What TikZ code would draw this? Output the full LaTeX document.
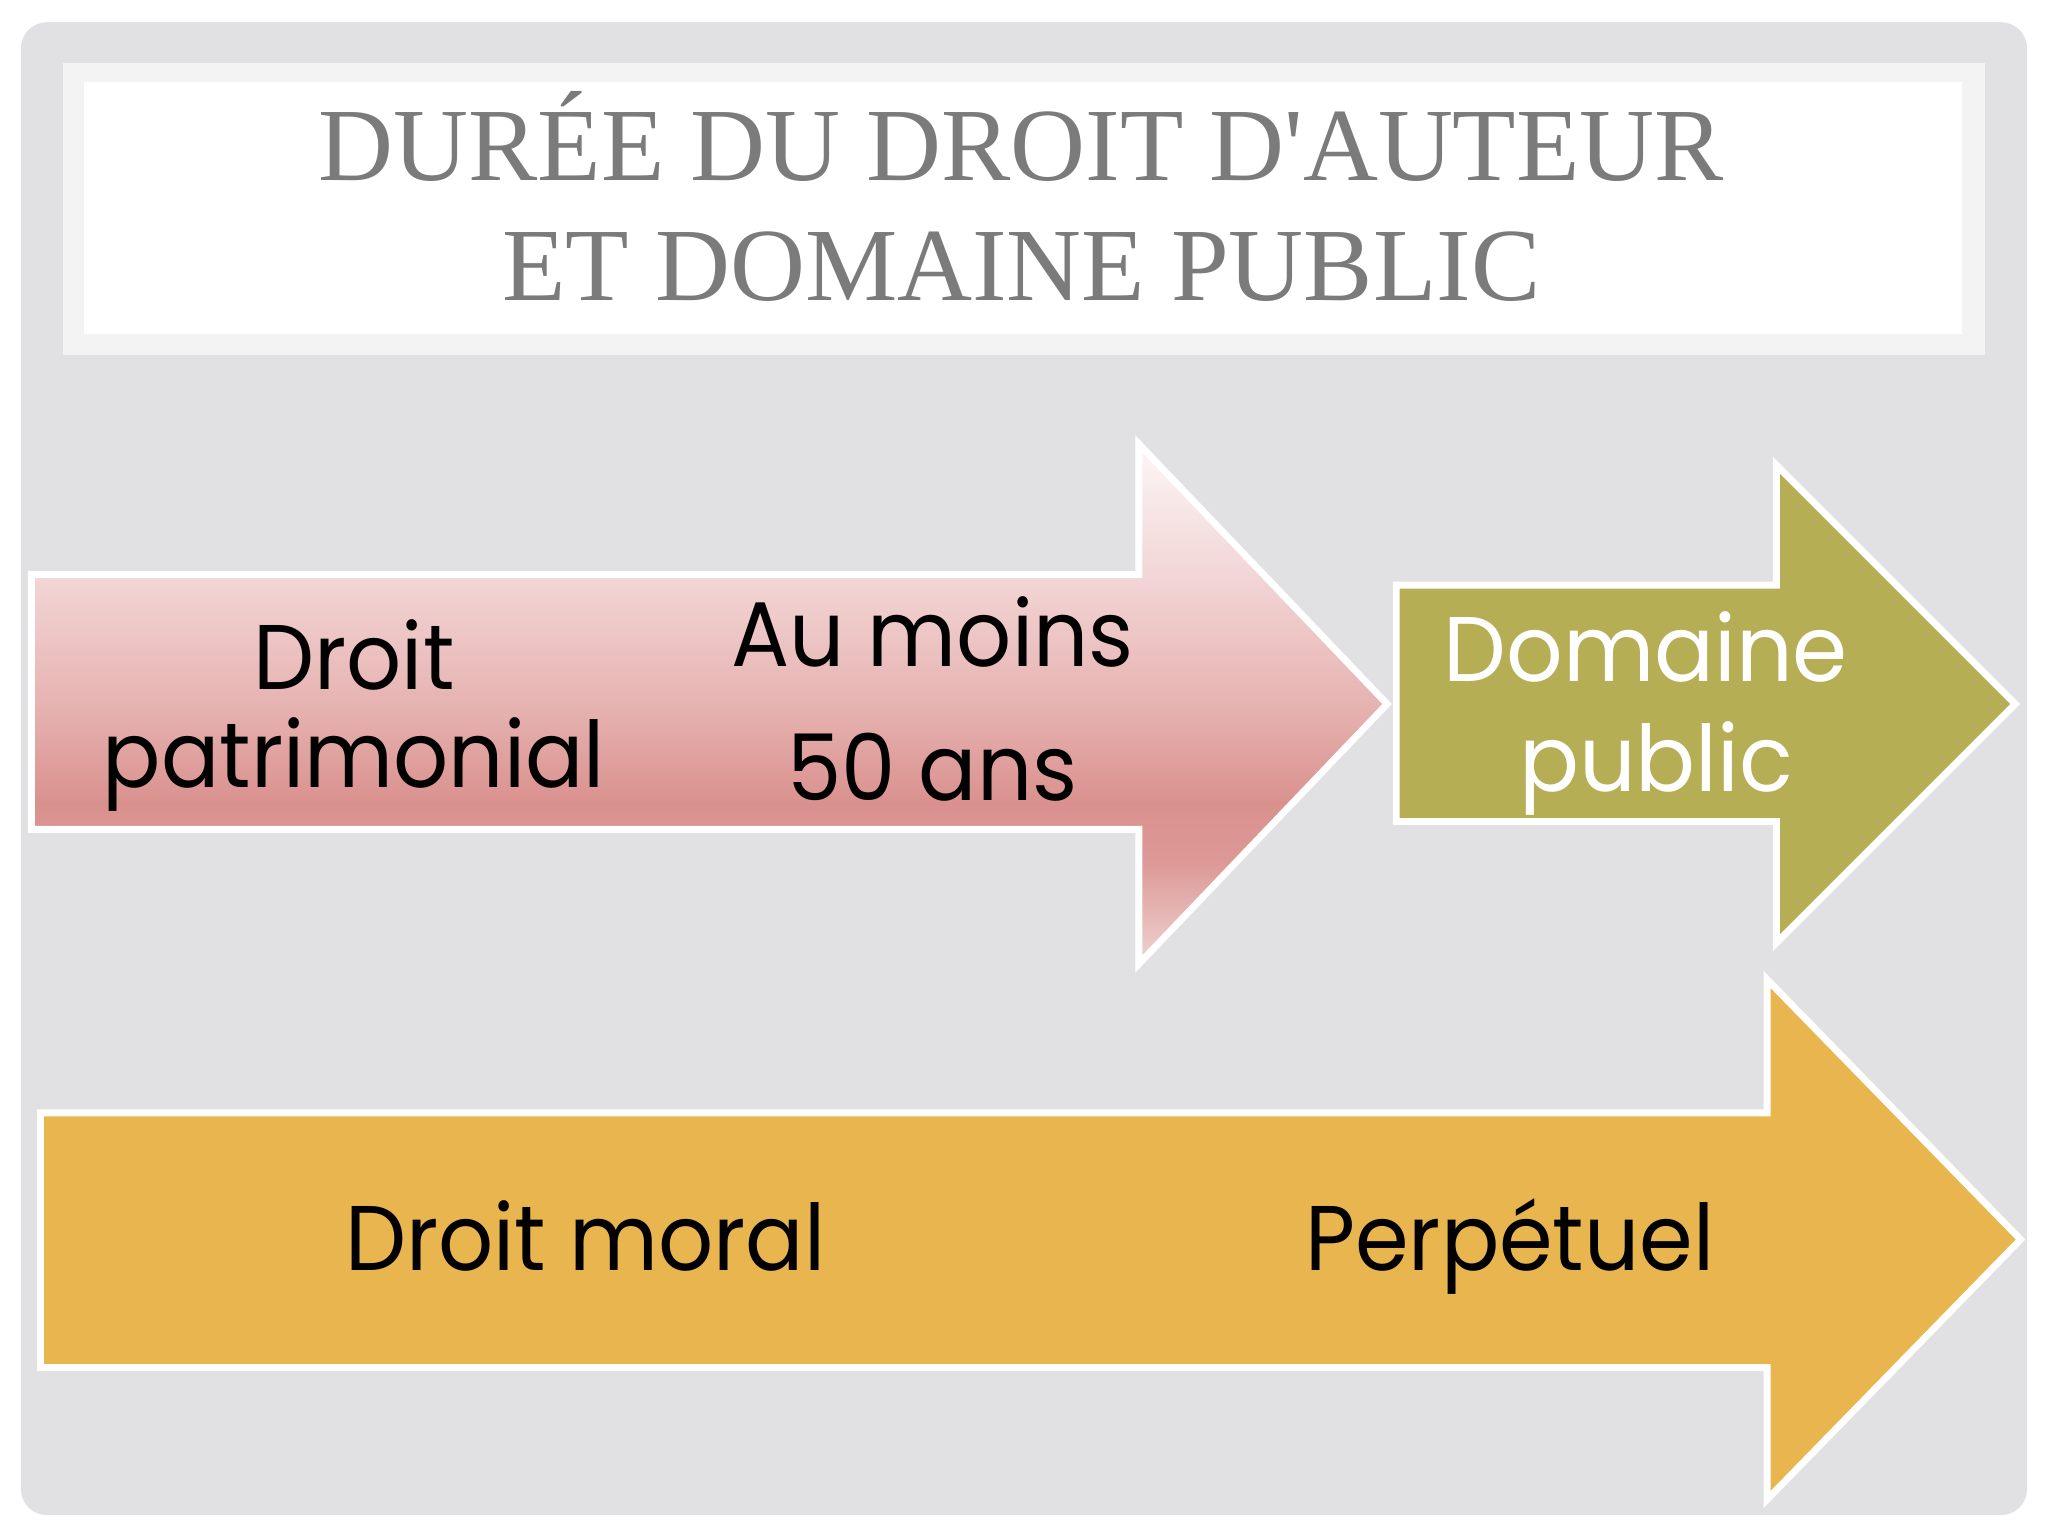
\documentclass[tikz,border=0pt]{standalone}
\usepackage{fontspec}
\setmainfont{Poppins}
\newfontfamily\titlefont{Liberation Serif}
\definecolor{bggrey}{HTML}{E1E0E2}
\definecolor{bandgrey}{HTML}{F3F3F3}
\definecolor{titlegrey}{HTML}{7B7B7B}
\definecolor{olive}{HTML}{B5AE55}
\definecolor{amber}{HTML}{E8B54E}
\definecolor{pk0}{HTML}{FCF6F6}
\definecolor{pk1}{HTML}{F2D4D4}
\definecolor{pk2}{HTML}{E6B3B1}
\definecolor{pk3}{HTML}{DA918E}
\definecolor{pk4}{HTML}{DC9996}
\definecolor{pk5}{HTML}{EFD3D2}
\pgfdeclareverticalshading{pinkshade}{100bp}{color(0bp)=(pk5); color(25bp)=(pk5); color(34.8bp)=(pk4); color(40.5bp)=(pk3); color(49.9bp)=(pk2); color(61.8bp)=(pk1); color(75bp)=(pk0); color(100bp)=(pk0)}
\tikzset{
  arrowshape/.style={draw=white, line width=1.5pt, line join=miter},
  titletext/.style={font=\titlefont\fontsize{22.6}{26}\selectfont, text=titlegrey, inner sep=0pt, anchor=base},
  bodytext/.style={font=\fontsize{20}{24}\selectfont, text=black, inner sep=0pt, anchor=base, xscale=0.94},
  whitetext/.style={bodytext, text=white, xscale=1.027}
}
\begin{document}
\begin{tikzpicture}[x=0.01cm,y=-0.01cm]
\useasboundingbox (0,0) rectangle (1568,1176);
\fill[white] (0,0) rectangle (1568,1176);
\fill[bggrey, rounded corners=0.2cm] (16,17) rectangle (1552,1160);
% title band
\fill[bandgrey] (48,48) rectangle (1520,272);
\fill[white] (64,63) rectangle (1502,256);
\node[titletext] (title1) at (782,138) {DURÉE DU DROIT D\textquotesingle AUTEUR};
\node[titletext] (title2) at (782,230) {ET DOMAINE PUBLIC};
% arrow 1 (pink)
\path[arrowshape, shading=pinkshade] (24,440) -- (872,440) -- (872,340) -- (1062,539) -- (872,738) -- (872,635) -- (24,635) -- cycle;
% arrow 2 (olive)
\path[arrowshape, fill=olive] (1069,448) -- (1360,448) -- (1360,356) -- (1543,539) -- (1360,722) -- (1360,629) -- (1069,629) -- cycle;
% arrow 3 (amber)
\path[arrowshape, fill=amber] (31,852) -- (1353,852) -- (1353,750) -- (1547,949) -- (1353,1148) -- (1353,1047) -- (31,1047) -- cycle;
% texts
\node[bodytext] (droit) at (271,528) {Droit};
\node[bodytext] (patri) at (271,603) {patrimonial};
\node[bodytext] (aumoins) at (714,510) {Au moins};
\node[bodytext] (cinq) at (714,613) {50 ans};
\node[whitetext] (domaine) at (1260,522) {Domaine};
\node[whitetext] (public) at (1268,606) {public};
\node[bodytext] (moral) at (448,973) {Droit moral};
\node[bodytext] (perp) at (1156,973) {Perpétuel};
\end{tikzpicture}
\end{document}
